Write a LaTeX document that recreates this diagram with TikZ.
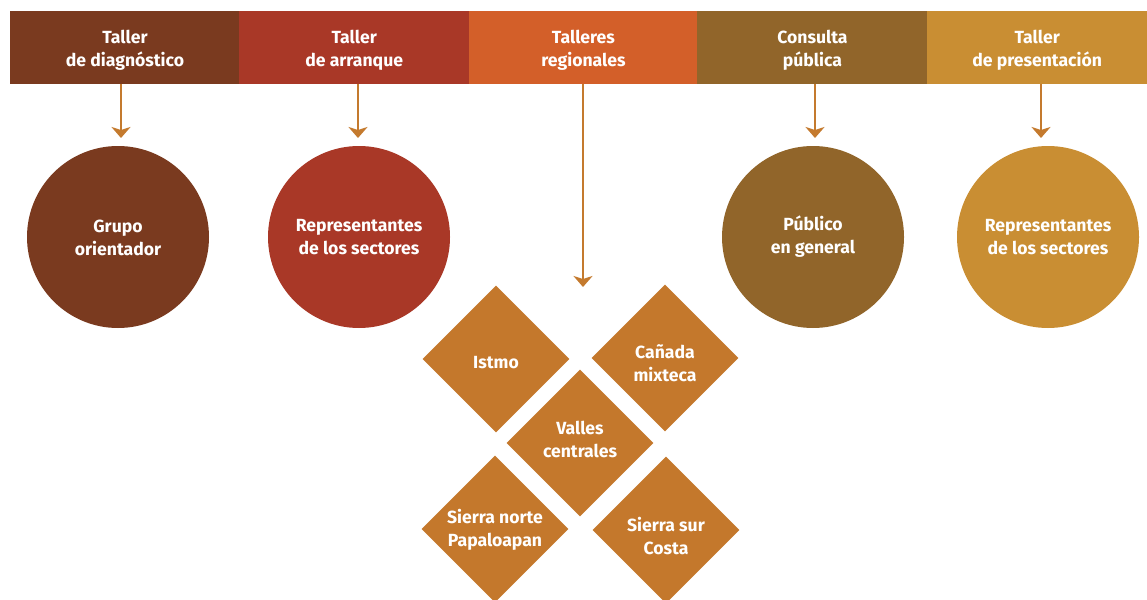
\documentclass[tikz,border=0pt]{standalone}
\usepackage{fontspec}
\setmainfont{Fira Sans}
\usetikzlibrary{shapes.geometric,arrows.meta}
\definecolor{cA}{HTML}{7A3A1F}
\definecolor{cB}{HTML}{A93827}
\definecolor{cC}{HTML}{D35F29}
\definecolor{cD}{HTML}{91652A}
\definecolor{cE}{HTML}{C98E33}
\definecolor{cArr}{HTML}{C47A2E}
\definecolor{cDia}{HTML}{C4782C}
\tikzset{
  lbl/.style={text=white,font=\bfseries\fontsize{17.6}{23}\selectfont,align=center,inner sep=0pt},
  hdr/.style={rectangle,inner sep=0pt,minimum height=73pt,anchor=north west},
  circ/.style={circle,inner sep=0pt,minimum size=182pt},
  dia/.style={diamond,inner sep=0pt,minimum width=147pt,minimum height=147pt,fill=cDia},
  arr/.style={draw=cArr,line width=2pt,-{Stealth[length=11pt,width=19pt,inset=3pt]}}
}
\begin{document}
\begin{tikzpicture}[x=1pt,y=-1pt]
\useasboundingbox (0,0) rectangle (1147,599);
% header bar
\node[hdr,fill=cA,minimum width=229.5pt,label={[lbl,yshift=-3pt]center:Taller\\de diagnóstico}] (h1) at (10,11) {};
\node[hdr,fill=cB,minimum width=230pt,label={[lbl,yshift=-3pt]center:Taller\\de arranque}] (h2) at (239,11) {};
\node[hdr,fill=cC,minimum width=228.5pt,label={[lbl,yshift=-3pt]center:Talleres\\regionales}] (h3) at (469,11) {};
\node[hdr,fill=cD,minimum width=230.5pt,label={[lbl,yshift=-3pt]center:Consulta\\pública}] (h4) at (697,11) {};
\node[hdr,fill=cE,minimum width=220pt,label={[lbl,yshift=-3pt]center:Taller\\de presentación}] (h5) at (927,11) {};
% circles
\node[circ,fill=cA,label={[lbl,yshift=-1pt]center:Grupo\\orientador}] (c1) at (118,237) {};
\node[circ,fill=cB,label={[lbl]center:Representantes\\de los sectores}] (c2) at (359,237) {};
\node[circ,fill=cD,label={[lbl]center:Público\\en general}] (c4) at (813,237) {};
\node[circ,fill=cE,label={[lbl]center:Representantes\\de los sectores}] (c5) at (1048,237) {};
% diamonds
\node[dia,label={[lbl,yshift=-4pt]center:Istmo}] (d1) at (496,359) {};
\node[dia,label={[lbl,yshift=-5pt]center:Cañada\\mixteca}] (d2) at (665,358) {};
\node[dia,label={[lbl,yshift=4pt]center:Valles\\centrales}] (d3) at (580,443) {};
\node[dia,label={[lbl,yshift=-1pt]center:Sierra norte\\Papaloapan}] (d4) at (495,529) {};
\node[dia,label={[lbl,yshift=-6pt]center:Sierra sur\\Costa}] (d5) at (666,530) {};
% arrows
\coordinate (t1) at (121,138);
\coordinate (t2) at (358,138);
\coordinate (t3) at (583,287);
\coordinate (t4) at (815,138);
\coordinate (t5) at (1041,138);
\draw[arr] (h1.south -| t1) -- (t1);
\draw[arr] (h2.south -| t2) -- (t2);
\draw[arr] (h3.south -| t3) -- (t3);
\draw[arr] (h4.south -| t4) -- (t4);
\draw[arr] (h5.south -| t5) -- (t5);
\end{tikzpicture}
\end{document}
